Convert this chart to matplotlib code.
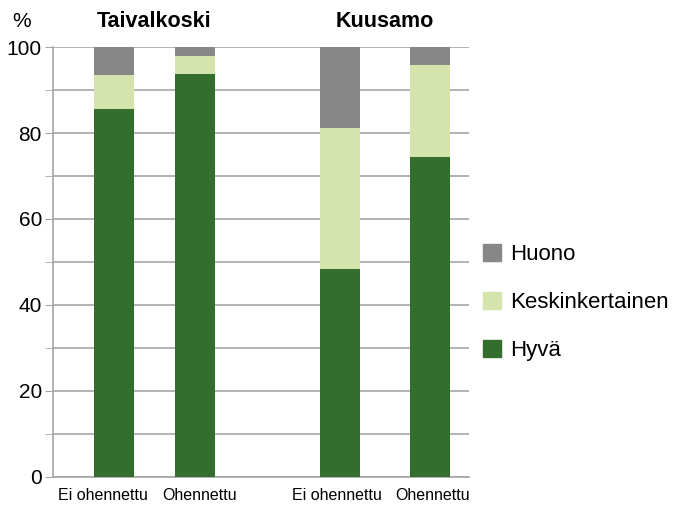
import matplotlib.pyplot as plt
import matplotlib.transforms as mtransforms
import numpy as np
from matplotlib.patches import Patch

plt.rcParams['font.family'] = ['Liberation Sans', 'DejaVu Sans']

# kategoriat ja osuudet (%)
kategoriat = ['Ei ohennettu', 'Ohennettu', 'Ei ohennettu', 'Ohennettu']
paikat = [0.76, 1.77, 3.59, 4.71]
hyva = [85.5, 93.7, 48.4, 74.4]
keski = [8.0, 4.2, 32.8, 21.4]
huono = [6.5, 2.1, 18.8, 4.2]
alueet = ['Taivalkoski', 'Kuusamo']

c_hyva = '#336e2f'
c_keski = '#d5e3ad'
c_huono = '#878787'

fig = plt.figure(figsize=(6.8, 5.08), dpi=100)
ax = fig.add_axes([0.078, 0.062, 0.612, 0.845])

x = np.array(paikat)
hyva = np.array(hyva)
keski = np.array(keski)
huono = np.array(huono)
ax.bar(x, hyva, width=0.5, color=c_hyva, zorder=3)
ax.bar(x, keski, width=0.5, bottom=hyva, color=c_keski, zorder=3)
ax.bar(x, huono, width=0.5, bottom=hyva + keski, color=c_huono, zorder=3)

ax.set_xlim(0, 5.2)
ax.set_ylim(0, 100)
ax.set_yticks(np.arange(0, 101, 20))
ax.set_yticks(np.arange(10, 100, 20), minor=True)
ax.grid(axis='y', which='both', color='#a6a6a6', linewidth=1.2, zorder=0)
ax.tick_params(axis='y', which='both', length=6, color='#a6a6a6',
               labelsize=15, pad=2)
ax.set_xticks(x)
ax.set_xticklabels(kategoriat, fontsize=11.5)
ax.tick_params(axis='x', length=0, pad=8)

# siirretään alarivin tekstejä vähän, ettei ne osu toisiinsa
siirto = [-11, 5, -3, 3]
for lbl, dx in zip(ax.get_xticklabels(), siirto):
    lbl.set_transform(lbl.get_transform() +
                      mtransforms.ScaledTranslation(dx / 100, 0, fig.dpi_scale_trans))

for s in ['top', 'right']:
    ax.spines[s].set_visible(False)
ax.spines['left'].set_color('#a6a6a6')
ax.spines['bottom'].set_color('#a6a6a6')
ax.spines['left'].set_linewidth(1.2)
ax.spines['bottom'].set_linewidth(1.2)

# aluenimet ryhmien yläpuolelle
ax.text((x[0] + x[1]) / 2, 103.5, alueet[0], ha='center', va='bottom',
        fontsize=15.5, fontweight='bold')
ax.text((x[2] + x[3]) / 2, 103.5, alueet[1], ha='center', va='bottom',
        fontsize=15.5, fontweight='bold')
fig.text(0.032, 0.958, '%', ha='center', va='center', fontsize=15)

handles = [Patch(color=c_huono, label='Huono'),
           Patch(color=c_keski, label='Keskinkertainen'),
           Patch(color=c_hyva, label='Hyvä')]
fig.legend(handles=handles, loc='center left', bbox_to_anchor=(0.681, 0.405),
           frameon=False, fontsize=16, handlelength=0.8, handleheight=0.8,
           labelspacing=1.2, handletextpad=0.42)

fig.savefig('out.png', dpi=100)
